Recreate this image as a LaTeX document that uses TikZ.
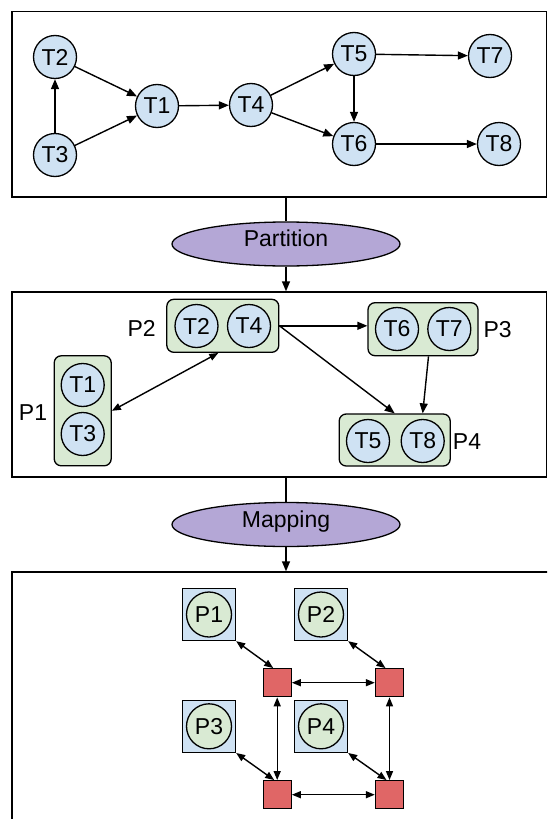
\documentclass[tikz,border=0pt]{standalone}
\usepackage{fontspec}
\setmainfont{Liberation Sans}
\usetikzlibrary{arrows.meta,shapes.geometric,calc}

\definecolor{taskblue}{HTML}{CFE2F3}
\definecolor{partgreen}{HTML}{D9EAD3}
\definecolor{stagepurple}{HTML}{B4A7D6}
\definecolor{routerred}{HTML}{E06666}

\tikzset{
  lbl/.style={font=\fontsize{23}{27}\selectfont, inner sep=0pt},
  layer/.style={draw, line width=1.4pt, rectangle, inner sep=0pt},
  task/.style={lbl, circle, draw, line width=1.3pt, fill=taskblue, minimum size=43pt},
  pcircle/.style={lbl, circle, draw, line width=1.3pt, fill=partgreen, minimum size=45pt},
  pbox/.style={draw, line width=1.3pt, fill=partgreen, rounded corners=7pt, inner sep=0pt},
  stage/.style={lbl, ellipse, draw, line width=1.3pt, fill=stagepurple,
    minimum width=228pt, minimum height=44pt, text height=0.72em, text depth=0.21em},
  core/.style={draw, line width=1.3pt, fill=taskblue, minimum width=53pt, minimum height=52pt, inner sep=0pt},
  router/.style={draw, line width=1.3pt, fill=routerred, minimum size=28pt, inner sep=0pt},
  plain/.style={line width=1.4pt},
  conn/.style={line width=1.4pt, -{Triangle[length=10pt,width=8pt]}},
  bidir/.style={line width=1.4pt, {Triangle[length=9pt,width=7pt]}-{Triangle[length=9pt,width=7pt]}},
}

\begin{document}
\begin{tikzpicture}[x=1pt, y=-1pt]
\useasboundingbox (0,0) rectangle (547,819);
\clip (0,0) rectangle (547,819);

% ---------- layer frames ----------
\node[layer, minimum width=534.3pt, minimum height=185.3pt] (graph) at (279.15,104.35) {};
\node[layer, minimum width=534.3pt, minimum height=185pt] (parts) at (279.15,384.5) {};
\node[layer, minimum width=548pt, minimum height=268pt] (noc) at (286,706) {};

% ---------- task graph ----------
\node[task] (t2) at (55,57) {T2};
\node[task] (t3) at (55,155) {T3};
\node[task] (t1) at (157,106) {T1};
\node[task] (t4) at (251,105) {T4};
\node[task] (t5) at (354,54) {T5};
\node[task] (t6) at (354,144) {T6};
\node[task] (t7) at (490,56) {T7};
\node[task] (t8) at (499,144) {T8};

\draw[conn] (t3) -- (t2);
\draw[conn] (t2) -- (t1);
\draw[conn] (t3) -- (t1);
\draw[conn] (t1) -- (t4);
\draw[conn] (t4) -- (t5);
\draw[conn] (t4) -- (t6);
\draw[conn] (t5) -- (t6);
\draw[conn] (t5) -- (t7);
\draw[conn] (t6) -- (t8);

% ---------- partition step ----------
\node[stage] (part) at (286,244) {Partition};
\draw[plain] (part.north) -- (part.north |- graph.south);
\draw[conn] (part.south) -- (part.south |- parts.north);

% ---------- partitions ----------
\node[pbox, minimum width=57pt, minimum height=110pt] (p1) at (82.7,410.8) {};
\node[pbox, minimum width=112pt, minimum height=53pt] (p2) at (222.8,325.8) {};
\node[pbox, minimum width=110pt, minimum height=53pt] (p3) at (423,329.2) {};
\node[pbox, minimum width=111pt, minimum height=52pt] (p4) at (394.7,440) {};

\node[task] (q1) at (82.7,385) {T1};
\node[task] (q3) at (82.7,434) {T3};
\node[task] (q2) at (196.5,326) {T2};
\node[task] (q4) at (249,326) {T4};
\node[task] (q6) at (397,329) {T6};
\node[task] (q7) at (449.3,329) {T7};
\node[task] (q5) at (368,441) {T5};
\node[task] (q8) at (422.7,441) {T8};

\node[lbl] (lp1) at (33,413) {P1};
\node[lbl] (lp2) at (141.7,328) {P2};
\node[lbl] (lp3) at (497.7,329.3) {P3};
\node[lbl] (lp4) at (467,441.7) {P4};

\draw[conn] (p2.east) -- (p2.east -| p3.west);
\draw[conn] (p2.east) -- (p4.north);
\draw[conn] ([xshift=5.5pt]p3.south) -- (q8.center |- p4.north);
\draw[bidir] (p1.east) -- ([xshift=-4.5pt]p2.south);

% ---------- mapping step ----------
\node[stage] (map) at (286,524.5) {Mapping};
\draw[plain] (map.north) -- (map.north |- parts.south);
\draw[conn] (map.south) -- (map.south |- noc.north);

% ---------- cores and routers ----------
\node[core] (c1) at (209,614.5) {};
\node[core] (c2) at (321,614.5) {};
\node[core] (c3) at (209,726.3) {};
\node[core] (c4) at (321,726.3) {};
\node[pcircle] (m1) at (209,614.5) {P1};
\node[pcircle] (m2) at (321,614.5) {P2};
\node[pcircle] (m3) at (209,726.3) {P3};
\node[pcircle] (m4) at (321,726.3) {P4};

\node[router] (r1) at (277.2,682.7) {};
\node[router] (r2) at (389.5,682.7) {};
\node[router] (r3) at (277.2,794.7) {};
\node[router] (r4) at (389.5,794.7) {};

\draw[bidir] (c1.south east) -- ([xshift=-4pt]r1.north);
\draw[bidir] (c2.south east) -- ([xshift=-4pt]r2.north);
\draw[bidir] (c3.south east) -- ([xshift=-3pt]r3.north);
\draw[bidir] (c4.south east) -- ([xshift=-3pt]r4.north);
\draw[bidir] (r1) -- (r2);
\draw[bidir] (r3) -- (r4);
\draw[bidir] (r1) -- (r3);
\draw[bidir] (r2) -- (r4);
\end{tikzpicture}
\end{document}
